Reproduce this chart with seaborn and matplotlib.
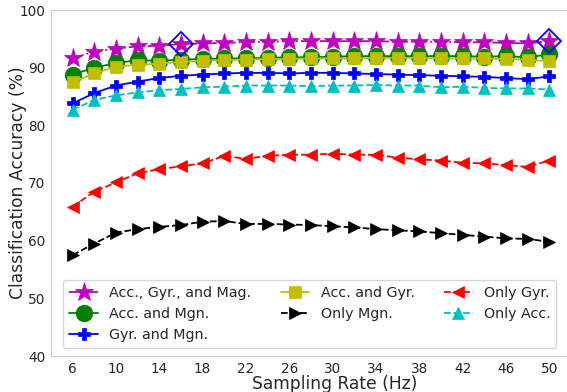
import matplotlib
matplotlib.use("Agg")
import matplotlib.pyplot as plt
import numpy as np
import pandas as pd
import seaborn as sns

# Sampling rates (Hz)
rates = [6, 8, 10, 12, 14, 16, 18, 20, 22, 24, 26, 28, 30, 32, 34, 36, 38, 40, 42, 44, 46, 48, 50]

# Classification accuracy (%) for each sensor combination
acc_gyr_mag = [91.6, 92.8, 93.3, 93.7, 93.8, 94.1, 94.2, 94.3, 94.4, 94.5, 94.6, 94.6,
               94.6, 94.6, 94.6, 94.5, 94.5, 94.5, 94.4, 94.4, 94.3, 94.2, 94.6]
acc_mgn = [88.8, 90.0, 90.8, 91.3, 91.2, 91.4, 91.5, 91.6, 91.6, 91.7, 91.8, 91.8,
           91.9, 92.0, 92.0, 92.0, 92.0, 92.0, 92.0, 91.9, 92.0, 91.8, 92.3]
gyr_mgn = [83.8, 85.6, 86.9, 87.6, 88.2, 88.6, 88.8, 89.0, 89.1, 89.1, 89.0, 89.1,
           89.1, 89.0, 88.9, 88.8, 88.7, 88.6, 88.5, 88.4, 88.2, 88.0, 88.5]
acc_gyr = [87.5, 89.0, 90.2, 90.5, 90.7, 91.0, 91.2, 91.3, 91.4, 91.5, 91.5, 91.6,
           91.6, 91.6, 91.7, 91.7, 91.7, 91.6, 91.6, 91.6, 91.5, 91.4, 91.1]
only_mgn = [57.5, 59.5, 61.4, 62.0, 62.4, 62.7, 63.3, 63.4, 62.9, 62.9, 62.8, 62.7,
            62.5, 62.3, 62.0, 61.8, 61.6, 61.3, 61.0, 60.7, 60.4, 60.3, 59.8]
only_gyr = [65.9, 68.5, 70.1, 71.7, 72.4, 72.9, 73.4, 74.7, 74.2, 74.7, 74.9, 74.9,
            75.1, 74.9, 74.9, 74.4, 74.1, 73.9, 73.5, 73.4, 73.1, 72.8, 73.9]
only_acc = [82.7, 84.4, 85.2, 85.7, 86.1, 86.3, 86.6, 86.7, 86.9, 86.9, 86.9, 86.8,
            86.9, 86.9, 87.0, 86.9, 86.9, 86.6, 86.7, 86.5, 86.4, 86.4, 86.2]

# Rates highlighted on the full-sensor curve
highlight_rates = [16, 50]

series_labels = ["Acc., Gyr., and Mag.", "Acc. and Mgn.", "Gyr. and Mgn.",
                 "Acc. and Gyr.", "Only Mgn.", "Only Gyr.", "Only Acc."]
series_values = [acc_gyr_mag, acc_mgn, gyr_mgn, acc_gyr, only_mgn, only_gyr, only_acc]

styles = {
    "Acc., Gyr., and Mag.": dict(color="m", marker="*", ms=14, ls="-."),
    "Acc. and Mgn.": dict(color="green", marker="o", ms=12, ls="-"),
    "Gyr. and Mgn.": dict(color="blue", marker="P", ms=9, ls="-"),
    "Acc. and Gyr.": dict(color="y", marker="s", ms=8.5, ls="-"),
    "Only Mgn.": dict(color="black", marker=">", ms=8.5, ls="--"),
    "Only Gyr.": dict(color="red", marker="<", ms=8.5, ls="--"),
    "Only Acc.": dict(color="c", marker="^", ms=8.5, ls="--"),
}

df = pd.DataFrame({
    "rate": np.tile(rates, len(series_labels)),
    "accuracy": np.concatenate(series_values),
    "sensors": np.repeat(series_labels, len(rates)),
})

sns.set_style("whitegrid")
plt.rcParams["font.family"] = ["DejaVu Sans"]

fig = plt.figure(figsize=(5.67, 3.92), dpi=100)
ax = fig.add_axes([51 / 567, 36 / 392, 520 / 567, 346 / 392])

draw_order = ["Acc., Gyr., and Mag.", "Acc. and Mgn.", "Acc. and Gyr.", "Gyr. and Mgn.",
              "Only Acc.", "Only Gyr.", "Only Mgn."]
handles = {}
for name in draw_order:
    st = styles[name]
    sub = df[df["sensors"] == name]
    sns.lineplot(data=sub, x="rate", y="accuracy", ax=ax, color=st["color"],
                 marker=st["marker"], markersize=st["ms"], linestyle=st["ls"],
                 linewidth=1.3, markeredgewidth=0.5, markeredgecolor=st["color"],
                 label=name, legend=False)
    handles[name] = ax.lines[-1]

# Hollow diamonds on the full-sensor curve
hl = df[(df["sensors"] == "Acc., Gyr., and Mag.") & (df["rate"].isin(highlight_rates))]
ax.plot(hl["rate"], hl["accuracy"], ls="none", marker="D", ms=12,
        markerfacecolor="none", markeredgecolor="blue", markeredgewidth=1.3)

ax.grid(False)
ax.set_xlim(4, 52)
ax.set_ylim(40, 100)
ax.set_xticks(rates[::2])
ax.set_yticks([40, 50, 60, 70, 80, 90, 100])
ax.tick_params(labelsize=9.8, pad=0.5)
ax.set_xlabel("Sampling Rate (Hz)", fontsize=12.3)
ax.set_ylabel("Classification Accuracy (%)", fontsize=12.3)
ax.xaxis.set_label_coords(0.546, -0.056)
ax.yaxis.set_label_coords(-0.047, 0.5)

ax.legend([handles[n] for n in series_labels], series_labels, ncol=3,
          loc="lower left", bbox_to_anchor=(0.024, 0.023), borderaxespad=0,
          fontsize=10.3, columnspacing=2.05, handlelength=2.0, frameon=True)

fig.savefig("out.png", dpi=100)
